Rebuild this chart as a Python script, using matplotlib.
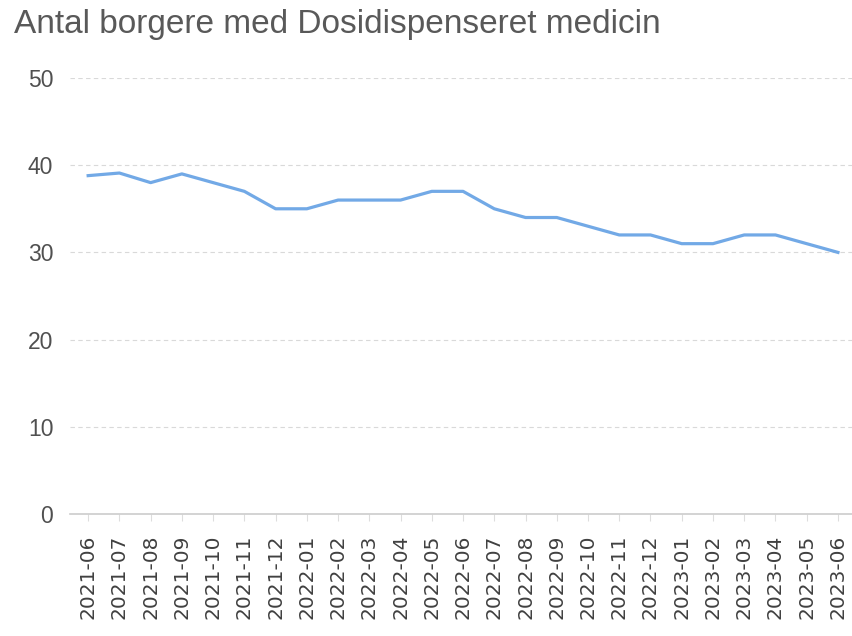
import matplotlib.pyplot as plt

months = ["2021-06", "2021-07", "2021-08", "2021-09", "2021-10", "2021-11", "2021-12",
          "2022-01", "2022-02", "2022-03", "2022-04", "2022-05", "2022-06", "2022-07",
          "2022-08", "2022-09", "2022-10", "2022-11", "2022-12", "2023-01", "2023-02",
          "2023-03", "2023-04", "2023-05", "2023-06"]
borgere = [38.8, 39.1, 38, 39, 38, 37, 35, 35, 36, 36, 36, 37, 37, 35,
           34, 34, 33, 32, 32, 31, 31, 32, 32, 31, 30]
y_ticks = [0, 10, 20, 30, 40, 50]

plt.rcParams['font.family'] = ['Liberation Sans', 'DejaVu Sans']

fig = plt.figure(figsize=(8.52, 6.36), dpi=100)
ax = fig.add_axes([0.0822, 0.1918, 0.9178, 0.6856])

x = list(range(len(months)))
ax.plot(x, borgere, color="#72a9e6", linewidth=2.3, solid_joinstyle="round")

ax.set_ylim(0, 50)
ax.set_xlim(-0.58, 24.45)
ax.set_yticks(y_ticks)
ax.set_xticks(x)
ax.set_xticklabels(months, rotation=90, fontsize=14.5, color="#404040",
                   family=["DejaVu Sans"])
ax.tick_params(axis="y", length=0, pad=12, labelsize=16.5, labelcolor="#505050")
ax.tick_params(axis="x", length=5, width=0.8, color="#dddddd", pad=10)

for v in y_ticks[1:]:
    ax.axhline(v, color="#d9d9d9", linewidth=0.8, linestyle=(0, (4, 3)), zorder=0)

for side in ["top", "right", "left"]:
    ax.spines[side].set_visible(False)
ax.spines["bottom"].set_color("#cccccc")
ax.spines["bottom"].set_linewidth(1.2)

fig.text(0.017, 0.962, "Antal borgere med Dosidispenseret medicin",
         fontsize=24, color="#595959", va="center", ha="left")

plt.savefig("out.png", dpi=100)
